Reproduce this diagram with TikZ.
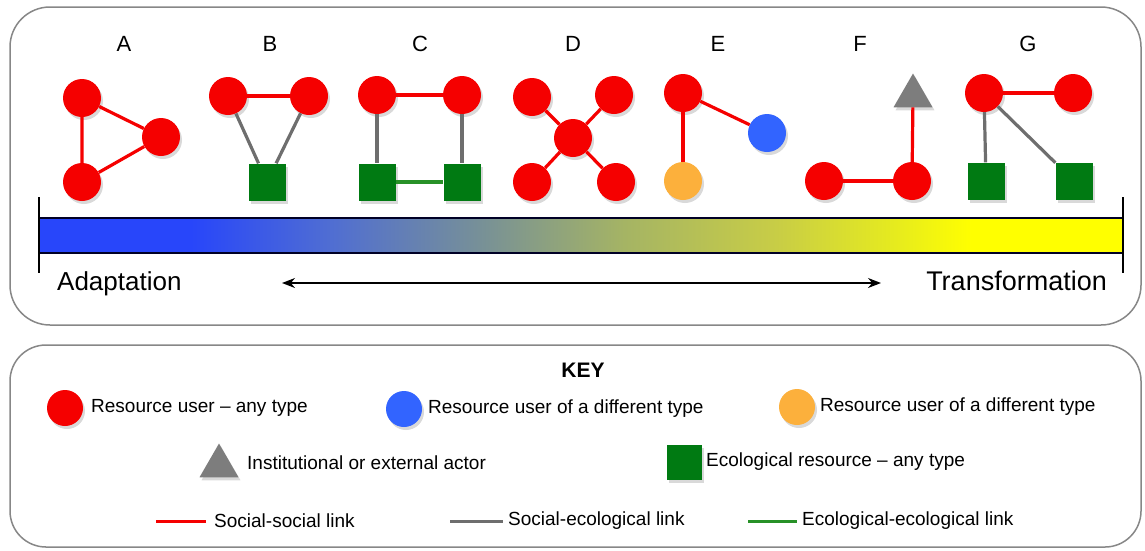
\documentclass[tikz,border=0pt]{standalone}
\usepackage{fontspec}
\setmainfont{Liberation Sans}
\usetikzlibrary{shapes.geometric, shadows, arrows.meta}

\definecolor{userred}{RGB}{245,0,0}
\definecolor{userblue}{RGB}{50,100,255}
\definecolor{userorange}{RGB}{252,176,60}
\definecolor{ecogreen}{RGB}{0,122,18}
\definecolor{actorgray}{RGB}{125,125,125}
\definecolor{linkgray}{RGB}{110,110,110}
\definecolor{linkgreen}{RGB}{40,145,40}
\definecolor{boxgray}{RGB}{135,135,135}
\definecolor{barblue}{RGB}{40,70,250}
\definecolor{barmidA}{RGB}{80,110,210}
\definecolor{barmidB}{RGB}{120,145,150}
\definecolor{barmidC}{RGB}{165,180,100}
\definecolor{barmidD}{RGB}{200,205,70}
\definecolor{barmidE}{RGB}{230,235,30}
\definecolor{baryellow}{RGB}{255,255,0}

\pgfdeclarehorizontalshading{adapttrans}{100bp}{color(0bp)=(barblue); color(32bp)=(barblue);
  color(38.5bp)=(barmidA); color(45.5bp)=(barmidB); color(52bp)=(barmidC);
  color(59bp)=(barmidD); color(64.5bp)=(barmidE); color(68bp)=(baryellow); color(100bp)=(baryellow)}

\tikzset{
  shade it/.style={drop shadow={shadow xshift=2pt, shadow yshift=-3pt, opacity=.3}},
  user/.style={circle, minimum size=38pt, inner sep=0pt, fill=userred, shade it},
  otheruser/.style={user, fill=userblue},
  thirduser/.style={user, fill=userorange},
  resource/.style={rectangle, minimum size=37pt, inner sep=0pt, fill=ecogreen, shade it},
  actor/.style={regular polygon, regular polygon sides=3, minimum size=45pt, inner sep=0pt, fill=actorgray, shade it},
  sslink/.style={draw=userred, line width=3.2pt},
  selink/.style={draw=linkgray, line width=3.2pt},
  eelink/.style={draw=linkgreen, line width=3.2pt},
  grplabel/.style={font=\fontsize{22}{26}\selectfont},
  keytext/.style={anchor=west, inner sep=0pt, font=\fontsize{19}{22}\selectfont},
  frame/.style={draw=boxgray, line width=1.5pt, rounded corners=40pt}
}

\begin{document}
\begin{tikzpicture}[x=1pt, y=-1pt]
    \useasboundingbox (0,0) rectangle (1145,550);
    \draw[frame] (10,7) rectangle (1141,325);
    \draw[frame, rounded corners=36pt] (10,345) rectangle (1141,547);

    \foreach \l/\x in {A/124,B/270,C/420,D/573,E/718,F/860,G/1028}
        \node[grplabel] (lab\l) at (\x,44) {\l};

    \node[user] (a1) at (82,98) {};
    \node[user] (a2) at (161,137) {};
    \node[user] (a3) at (82,182) {};
    \draw[sslink] (a1) -- (a2) -- (a3) -- (a1);

    \node[user] (b1) at (228,96) {};
    \node[user] (b2) at (309,96) {};
    \node[resource] (b3) at (267,182) {};
    \draw[sslink] (b1) -- (b2);
    \draw[selink] (b1) -- (b3) -- (b2);

    \node[user] (c1) at (377,95) {};
    \node[user] (c2) at (462,95) {};
    \node[resource] (c3) at (377,182) {};
    \node[resource] (c4) at (462,182) {};
    \draw[sslink] (c1) -- (c2);
    \draw[selink] (c1) -- (c3);
    \draw[selink] (c2) -- (c4);
    \draw[eelink] (c3) -- (c4);

    \node[user] (d0) at (573,138) {};
    \node[user] (d1) at (532,97) {};
    \node[user] (d2) at (614,95) {};
    \node[user] (d3) at (532,182) {};
    \node[user] (d4) at (616,182) {};
    \foreach \n in {d1,d2,d3,d4}
        \draw[sslink] (d0) -- (\n);

    \node[user] (e1) at (683,93) {};
    \node[otheruser] (e2) at (767,133) {};
    \node[thirduser] (e3) at (683,181) {};
    \draw[sslink] (e1) -- (e2);
    \draw[sslink] (e1) -- (e3);

    \node[user] (f1) at (824,181) {};
    \node[user] (f2) at (912,181) {};
    \node[actor] (f3) at (913,96) {};
    \draw[sslink] (f1) -- (f2);
    \draw[sslink] (f2) -- (f3);

    \node[user] (g1) at (984,93) {};
    \node[user] (g2) at (1073,93) {};
    \node[resource] (g3) at (986,181) {};
    \node[resource] (g4) at (1074,181) {};
    \draw[sslink] (g1) -- (g2);
    \draw[selink] (g1) -- (g3);
    \draw[selink] (g1) -- (g4);

    \shade[shading=adapttrans] (39,218) rectangle (1123,253);
    \draw[line width=1.6pt, draw=black!85!blue] (39,218) rectangle (1123,253);
    \draw[line width=1.4pt] (39,197) -- (39,273);
    \draw[line width=1.4pt] (1123,197) -- (1123,273);

    \node[anchor=west, inner sep=0pt, font=\fontsize{26}{30}\selectfont] (adapt) at (57,284) {Adaptation};
    \node[anchor=east, inner sep=0pt, font=\fontsize{27}{30}\selectfont] (transf) at (1107,281) {Transformation};
    \coordinate (arrL) at (282,283);
    \coordinate (arrR) at (881,283);
    \draw[line width=1.6pt, {Stealth[length=13pt,width=10pt]}-{Stealth[length=13pt,width=10pt]}] (arrL) -- (arrR);

    \node[font=\bfseries\fontsize{21}{24}\selectfont] (key) at (583,370) {KEY};

    \node[user, minimum size=36pt] (ku1) at (65,408) {};
    \node[keytext] (kt1) at (91,408) {Resource user -- any type};
    \node[otheruser, minimum size=36pt] (ku2) at (404,409) {};
    \node[keytext] (kt2) at (428,409) {Resource user of a different type};
    \node[thirduser, minimum size=36pt] (ku3) at (797,407) {};
    \node[keytext] (kt3) at (820,407) {Resource user of a different type};

    \node[actor] (ka) at (219,466) {};
    \node[keytext] (kt4) at (247,463) {Institutional or external actor};
    \node[resource, minimum size=35pt] (kr) at (684,462) {};
    \node[keytext] (kt5) at (706,462) {Ecological resource -- any type};

    \coordinate (ss1) at (156,521);
    \coordinate (ss2) at (206,521);
    \draw[sslink, line width=3pt] (ss1) -- (ss2);
    \node[keytext] (kt6) at (214,521) {Social-social link};
    \coordinate (se1) at (450,521);
    \coordinate (se2) at (503,521);
    \draw[selink, line width=3pt] (se1) -- (se2);
    \node[keytext] (kt7) at (508,521) {Social-ecological link};
    \coordinate (ee1) at (748,521);
    \coordinate (ee2) at (797,521);
    \draw[eelink, line width=3pt] (ee1) -- (ee2);
    \node[keytext] (kt8) at (802,521) {Ecological-ecological link};
\end{tikzpicture}
\end{document}
